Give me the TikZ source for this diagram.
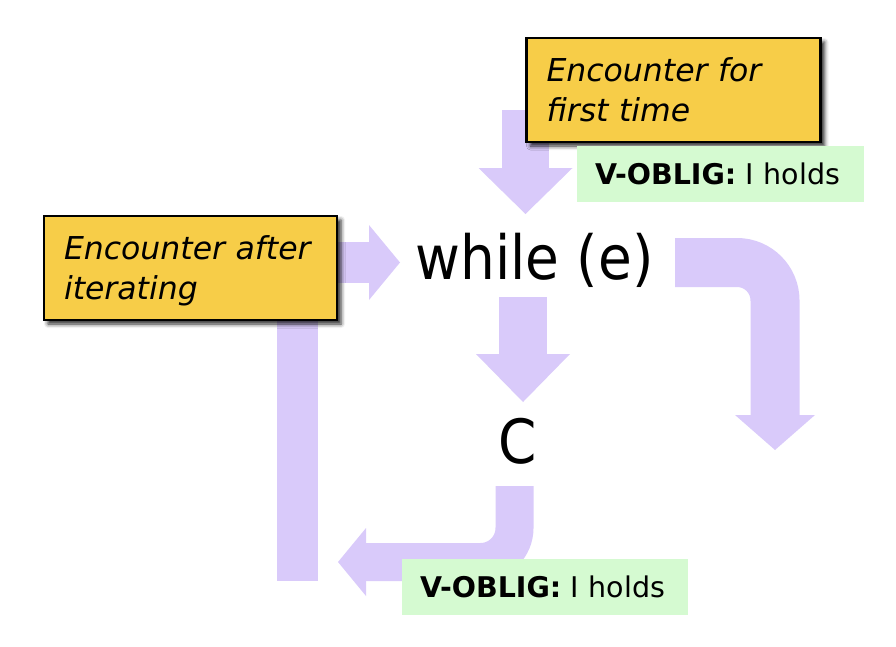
\documentclass[tikz,border=0pt]{standalone}
\usepackage{fontspec}
\setmainfont{DejaVu Sans}
\newfontfamily\bigfont[FakeStretch=0.9]{DejaVu Sans}
\usetikzlibrary{shadows.blur}
\definecolor{arrcol}{RGB}{217,202,250}
\definecolor{ycol}{RGB}{247,205,72}
\definecolor{gcol}{RGB}{213,250,209}
\tikzset{
  shaft/.style={draw=arrcol, line cap=butt},
  headtri/.style={fill=arrcol},
  ybox/.style={draw=black, line width=2.8pt, fill=ycol,
    blur shadow={shadow xshift=4pt, shadow yshift=-4pt, shadow blur radius=4pt, shadow opacity=85},
    inner xsep=20pt, inner ysep=0pt, minimum height=104pt, align=left,
    font=\itshape\fontsize{31.5}{40}\selectfont},
  gbox/.style={fill=gcol, inner xsep=18pt, inner ysep=0pt, align=left,
    text height=21pt, text depth=0pt, minimum height=56pt,
    font=\fontsize{28.5}{34}\selectfont},
  code/.style={inner sep=0pt, font=\bigfont\fontsize{61}{70}\selectfont}
}
\begin{document}
\begin{tikzpicture}[x=1pt,y=-1pt]
\useasboundingbox (0,0) rectangle (896,646);
% code texts
\node[code, anchor=base] (wh) at (534.5,279) {while (e)};
\node[code, anchor=base] (c) at (518,463) {C};
% named coordinates for block arrows
\coordinate (topS) at (525.5,110);
\coordinate (topH) at (525.5,168);
\coordinate (topT) at (525.5,214);
\coordinate (inS) at (300,262.5);
\coordinate (inH) at (369,262.5);
\coordinate (inT) at (400,262.5);
\coordinate (dnS) at (523,297);
\coordinate (dnH) at (523,354);
\coordinate (dnT) at (523,402);
\coordinate (exS) at (675,262.5);
\coordinate (exC) at (775,262.5);
\coordinate (exH) at (775,415);
\coordinate (exT) at (775,450);
\coordinate (bkS) at (514.5,486);
\coordinate (bkC) at (514.5,562);
\coordinate (bkH) at (366,562);
\coordinate (bkT) at (338,562);
\coordinate (lvS) at (297.5,300);
\coordinate (lvE) at (297.5,581);
% shafts
\draw[shaft, line width=47pt] (topS) -- ([yshift=-1pt]topH);
\draw[shaft, line width=41pt] (inS) -- ([xshift=1pt]inH);
\draw[shaft, line width=48pt] (dnS) -- ([yshift=-1pt]dnH);
\draw[shaft, line width=49pt, rounded corners=38pt] (exS) -- (exC) -- ([yshift=-1pt]exH);
\draw[shaft, line width=38pt, rounded corners=34pt] (bkS) -- (bkC) -- ([xshift=-1pt]bkH);
\draw[shaft, line width=41pt] (lvS) -- (lvE);
% heads
\fill[headtri] ([xshift=-47pt]topH) -- ([xshift=47pt]topH) -- (topT) -- cycle;
\fill[headtri] ([yshift=37.5pt]inH) -- ([yshift=-37.5pt]inH) -- (inT) -- cycle;
\fill[headtri] ([xshift=-47pt]dnH) -- ([xshift=47pt]dnH) -- (dnT) -- cycle;
\fill[headtri] ([xshift=-40pt]exH) -- ([xshift=40pt]exH) -- (exT) -- cycle;
\fill[headtri] ([yshift=34pt]bkH) -- ([yshift=-34pt]bkH) -- (bkT) -- cycle;
% yellow boxes
\node[ybox, text width=254pt] (first) at (673.5,90) {Encounter for\\first time};
\node[ybox, text width=253pt] (after) at (190.5,268) {Encounter after\\\smash{iterating}};
% green labels
\node[gbox, text width=251pt] (ob1) at (720.5,174) {\textbf{V-OBLIG:} I holds};
\node[gbox, text width=250pt] (ob2) at (545,586.5) {\textbf{V-OBLIG:} I holds};
\end{tikzpicture}
\end{document}
